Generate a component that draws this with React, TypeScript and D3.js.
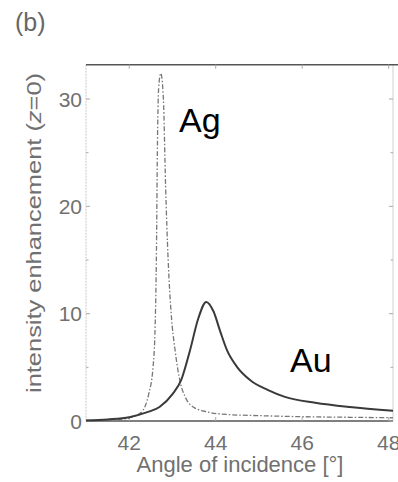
import { useEffect, useRef } from 'react';
import * as d3 from 'd3';

// angle of incidence (deg) vs intensity enhancement
const auAngle = [41.0, 41.5, 42.0, 42.4, 42.7, 43.0, 43.2, 43.4, 43.6, 43.78, 43.95, 44.1, 44.26, 44.5, 44.8, 45.2, 45.6, 46.3, 47.1, 48.1];
const auValue = [0.05, 0.15, 0.35, 0.8, 1.3, 2.5, 3.8, 6.5, 9.6, 11.1, 10.2, 8.4, 6.6, 5.0, 3.8, 2.9, 2.25, 1.7, 1.3, 0.95];

const agAngle = [41.0, 41.6, 42.0, 42.2, 42.32, 42.45, 42.55, 42.6, 42.63, 42.65, 42.68, 42.73, 42.79, 42.84, 42.9, 42.97, 43.06, 43.18, 43.3, 43.48, 43.8, 44.3, 45.0, 46.0, 47.0, 48.1];
const agValue = [0.05, 0.1, 0.3, 0.6, 1.0, 2.5, 5.0, 9, 16, 25, 31, 32.4, 30, 22, 15, 10, 6.6, 3.6, 2.2, 1.3, 0.85, 0.6, 0.5, 0.4, 0.35, 0.3];

const xTicks = [42, 44, 46, 48];
const yTicks = [0, 10, 20, 30];
const yMinor = [5, 15, 25];

const W = 398;
const H = 482;

export default function App() {
  const ref = useRef<SVGSVGElement>(null);

  useEffect(() => {
    if (!ref.current) return;
    const svg = d3.select(ref.current);
    svg.selectAll('*').remove();

    const left = 86, right = 393, top = 64.7, bottom = 421;
    const x = d3.scaleLinear().domain([41, 48.1]).range([left, right]);
    const y = d3.scaleLinear().domain([0, 33.2]).range([bottom, top]);
    const font = 'Arial, "Liberation Sans", Helvetica, sans-serif';
    const grey = '#707070';

    svg.append('rect').attr('width', W).attr('height', H).attr('fill', '#fff');

    // frame
    svg.append('line').attr('x1', left).attr('x2', left).attr('y1', top).attr('y2', bottom)
      .attr('stroke', '#c8c8c8').attr('stroke-width', 1).attr('stroke-dasharray', '2,1');
    svg.append('line').attr('x1', right).attr('x2', right).attr('y1', top).attr('y2', bottom)
      .attr('stroke', '#d0d0d0').attr('stroke-width', 1);
    svg.append('line').attr('x1', left).attr('x2', W).attr('y1', top).attr('y2', top)
      .attr('stroke', '#555').attr('stroke-width', 1.6);
    svg.append('line').attr('x1', left).attr('x2', right).attr('y1', bottom).attr('y2', bottom)
      .attr('stroke', '#555').attr('stroke-width', 1.4);

    // ticks
    const tickG = svg.append('g').attr('stroke', '#aaa').attr('stroke-width', 1);
    [...yTicks, ...yMinor].forEach((v) => {
      const len = yTicks.includes(v) ? 4 : 2.5;
      tickG.append('line').attr('x1', left).attr('x2', left + len).attr('y1', y(v)).attr('y2', y(v));
      tickG.append('line').attr('x1', right).attr('x2', right - len).attr('y1', y(v)).attr('y2', y(v));
    });
    xTicks.forEach((v) => {
      tickG.append('line').attr('x1', x(v)).attr('x2', x(v)).attr('y1', top).attr('y2', top + 4);
      tickG.append('line').attr('x1', x(v)).attr('x2', x(v)).attr('y1', bottom).attr('y2', bottom - 4);
    });

    // tick labels
    svg.append('g').selectAll('text').data(yTicks).join('text')
      .attr('x', 82).attr('y', (d) => y(d) + 7.5)
      .attr('text-anchor', 'end').attr('font-family', font).attr('font-size', 21)
      .attr('fill', grey).text((d) => d);
    svg.append('g').selectAll('text').data(xTicks).join('text')
      .attr('x', (d) => x(d)).attr('y', 450)
      .attr('text-anchor', 'middle').attr('font-family', font).attr('font-size', 21)
      .attr('fill', grey).text((d) => d);

    // axis titles
    svg.append('text').attr('x', 240).attr('y', 472).attr('text-anchor', 'middle')
      .attr('font-family', font).attr('font-size', 22).attr('fill', grey)
      .text('Angle of incidence [°]');
    const yl = svg.append('text').attr('transform', 'translate(41,233) rotate(-90)')
      .attr('text-anchor', 'middle').attr('font-family', font).attr('font-size', 20)
      .attr('textLength', 320).attr('lengthAdjust', 'spacingAndGlyphs')
      .attr('fill', grey);
    yl.append('tspan').text('intensity enhancement (');
    yl.append('tspan').attr('font-style', 'italic').text('z');
    yl.append('tspan').text('=0)');

    svg.append('text').attr('x', 15).attr('y', 31).attr('font-family', font)
      .attr('font-size', 25).attr('fill', '#666').text('(b)');

    // curves
    const line = d3.line<[number, number]>().x((d) => x(d[0])).y((d) => y(d[1])).curve(d3.curveMonotoneX);
    const ag = agAngle.map((a, i) => [a, agValue[i]] as [number, number]);
    const au = auAngle.map((a, i) => [a, auValue[i]] as [number, number]);
    svg.append('path').attr('d', line(ag)).attr('fill', 'none').attr('stroke', '#777')
      .attr('stroke-width', 1.3).attr('stroke-dasharray', '5,2,1.5,2');
    svg.append('path').attr('d', line(au)).attr('fill', 'none').attr('stroke', '#3a3a3a')
      .attr('stroke-width', 2);

    // series labels
    svg.append('text').attr('x', 179).attr('y', 132).attr('font-family', font)
      .attr('font-size', 34).attr('fill', '#000').text('Ag');
    svg.append('text').attr('x', 290).attr('y', 372).attr('font-family', font)
      .attr('font-size', 34).attr('fill', '#000').text('Au');
  }, []);

  return (
    <svg ref={ref} width={W} height={H} style={{ position: 'absolute', left: 0, top: 0 }} />
  );
}
